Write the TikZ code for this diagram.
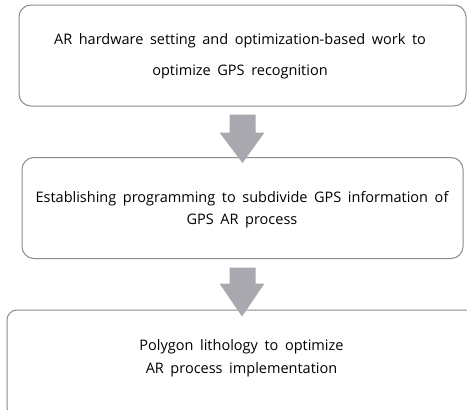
\documentclass[tikz,border=0pt]{standalone}
\usepackage{fontspec}
\setmainfont[WordSpace=1.75]{Open Sans}
\usetikzlibrary{calc}
\definecolor{boxline}{HTML}{8C8C8C}
\definecolor{arrowfill}{HTML}{A8A8AE}
\tikzset{
  x=1pt, y=1pt,
  stagebox/.style={draw=boxline, line width=1pt, rounded corners=12pt, inner sep=0pt},
  stagetext/.style={align=center, font=\fontsize{14.5}{15}\selectfont, inner sep=0pt},
  blockarrow/.style={fill=arrowfill, draw=none}
}
\begin{document}
\begin{tikzpicture}
\clip (0,0) rectangle (467,-410);
\fill[white] (0,0) rectangle (467,-410);
% boxes
\node[stagebox, minimum width=447pt, minimum height=101pt] (b1) at (242.5,-55.5) {};
\node[stagebox, minimum width=441pt, minimum height=101pt] (b2) at (242.5,-208) {};
\node[stagebox, rounded corners=10pt, minimum width=470pt, minimum height=108pt] (b3) at (242,-364) {};
% texts
\node[stagetext] (t1a) at (240,-41) {AR hardware setting and optimization-based work to};
\node[stagetext] (t1b) at (240,-72) {optimize GPS recognition};
\node[stagetext] (t2a) at (242,-199) {Establishing programming to subdivide GPS information of};
\node[stagetext] (t2b) at (242,-220.5) {GPS AR process};
\node[stagetext] (t3a) at (241.5,-347) {Polygon lithology to optimize};
\node[stagetext] (t3b) at (241.5,-370) {AR process implementation};
% arrows
\coordinate (a1) at ($(b1.south)+(0,-8)$);
\coordinate (a1tip) at ($(b2.north)+(0,-6)$);
\fill[blockarrow] ($(a1)+(-13,0)$) -- ($(a1)+(13,0)$) -- ($(a1)+(13,-18)$) -- ($(a1)+(22,-18)$)
  -- (a1tip) -- ($(a1)+(-23,-18)$) -- ($(a1)+(-13,-18)$) -- cycle;
\coordinate (a2) at ($(b2.south)+(0,-8.5)$);
\coordinate (a2tip) at ($(b3.north)+(0,-7)$);
\fill[blockarrow] ($(a2)+(-13,0)$) -- ($(a2)+(13,0)$) -- ($(a2)+(13,-16)$) -- ($(a2)+(22,-16)$)
  -- (a2tip) -- ($(a2)+(-23,-16)$) -- ($(a2)+(-13,-16)$) -- cycle;
\end{tikzpicture}
\end{document}
